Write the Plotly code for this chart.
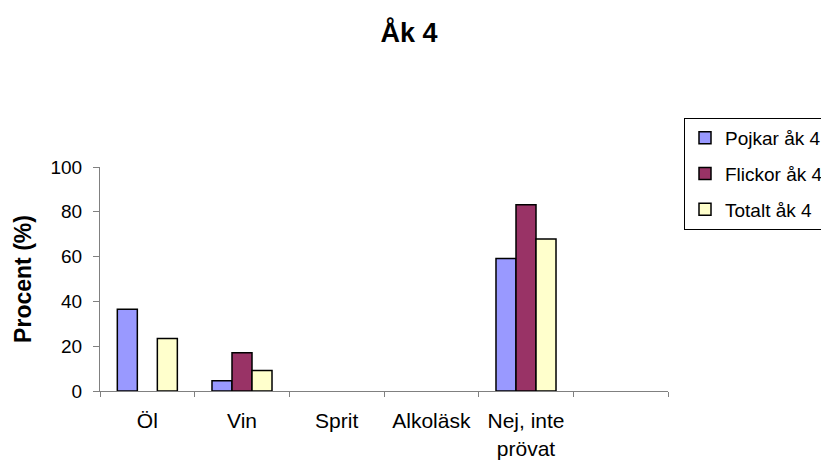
import plotly.graph_objects as go

categories = ["Öl", "Vin", "Sprit", "Alkoläsk", "Nej, inte<br>prövat", " "]
series_names = ["Pojkar åk 4", "Flickor åk 4", "Totalt åk 4"]
pojkar = [36.5, 4.6, None, None, 59.1]
flickor = [None, 17.1, None, None, 83.2]
totalt = [23.4, 9.1, None, None, 67.9]
colors = ["#9999FF", "#993366", "#FFFFCC"]
yticks = [0, 20, 40, 60, 80, 100]

fig = go.Figure()
for i, (name, vals) in enumerate(zip(series_names, [pojkar, flickor, totalt])):
    fig.add_trace(go.Bar(
        x=categories[:len(vals)], y=vals, name=name,
        marker=dict(color=colors[i], line=dict(color="black", width=1.5)),
        legendgroup=str(i),
    ))

fig.update_layout(
    width=829, height=462,
    margin=dict(l=92, r=169, t=159, b=79, autoexpand=False),
    paper_bgcolor="white", plot_bgcolor="white",
    font=dict(family="Arial, Liberation Sans, sans-serif", size=19, color="black"),
    title=dict(text="<b>Åk 4</b>", x=(409-8)/829, xanchor="center", y=1-(33-8)/462, yanchor="middle",
               font=dict(size=27)),
    barmode="group", bargap=0.366, bargroupgap=0,
    legend=dict(x=(684-100)/568, xanchor="left", y=(391-118)/224, yanchor="top",
                bordercolor="black", borderwidth=1, bgcolor="white",
                font=dict(size=19), traceorder="grouped", tracegroupgap=8),
    showlegend=True,
)
fig.update_xaxes(
    type="category", categoryorder="array", categoryarray=categories,
    range=[-0.5, len(categories) - 0.5],
    showline=True, linecolor="#808080", linewidth=1,
    ticks="outside", tickson="boundaries", ticklen=5, tickcolor="#808080",
    showgrid=False, ticklabelstandoff=11, tickfont=dict(size=21),
)
fig.update_yaxes(
    range=[0, 100], tickvals=yticks,
    showline=True, linecolor="#808080", linewidth=1,
    ticks="outside", ticklen=6, tickcolor="#808080",
    showgrid=False, zeroline=False, tickfont=dict(size=19), ticklabelstandoff=7,
    title=dict(text="<b>Procent (%)</b>", font=dict(size=23), standoff=12),
)
fig.write_html("out.html")
